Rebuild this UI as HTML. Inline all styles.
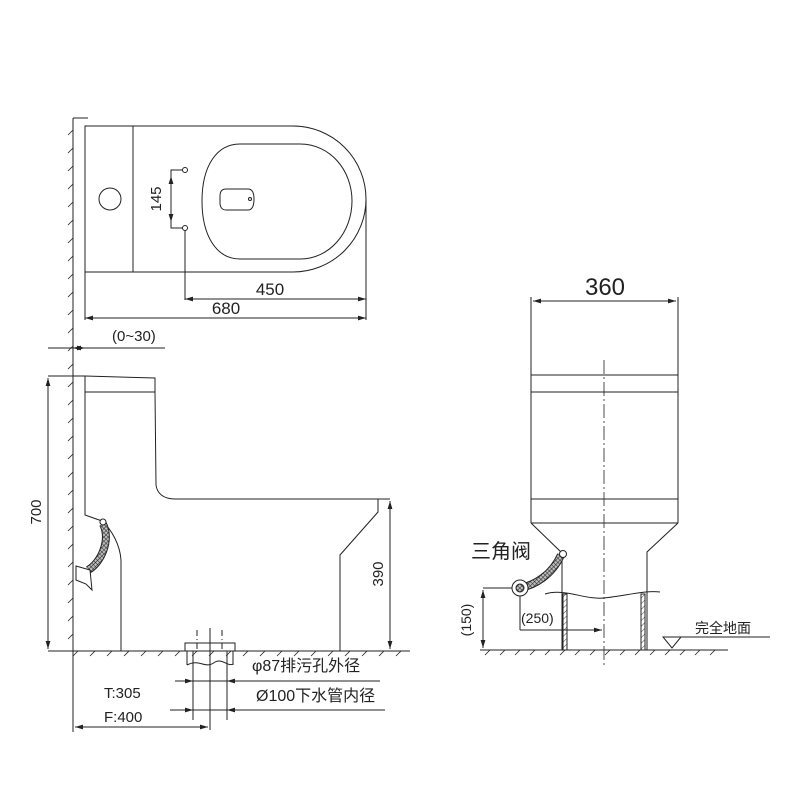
<!DOCTYPE html>
<html><head><meta charset="utf-8"><style>html,body{margin:0;padding:0;background:#fff}svg{display:block}</style></head><body>
<svg width="800" height="800" viewBox="0 0 800 800" xmlns="http://www.w3.org/2000/svg" font-family="'Liberation Sans','Noto Sans CJK SC',sans-serif">
<defs>
<marker id="a" viewBox="0 0 10 6" refX="10" refY="3" markerWidth="8" markerHeight="5" orient="auto-start-reverse" markerUnits="userSpaceOnUse"><path d="M0,0L10,3L0,6z" fill="#222"/></marker>
<pattern id="h" width="3" height="3" patternUnits="userSpaceOnUse" patternTransform="rotate(45)"><rect width="3" height="3" fill="#bbb"/><path d="M0,0V3M0,0H3" stroke="#222" stroke-width="1"/></pattern>
<pattern id="h2" width="4" height="4" patternUnits="userSpaceOnUse" patternTransform="rotate(45)"><path d="M0,0V4" stroke="#333" stroke-width="0.9"/></pattern>
</defs>
<g fill="none" stroke="#222" stroke-width="1">
<line x1="73" y1="118" x2="73" y2="651"/>
<line x1="73" y1="118" x2="88" y2="118"/>
<g stroke-width="0.8">
<path d="M73,130l-5,5M73,148l-5,5M73,166l-5,5M73,184l-5,5M73,202l-5,5M73,220l-5,5M73,238l-5,5M73,256l-5,5M73,274l-5,5M73,292l-5,5M73,310l-5,5M73,328l-5,5M73,346l-5,5M73,364l-5,5M73,382l-5,5M73,400l-5,5M73,418l-5,5M73,436l-5,5M73,454l-5,5M73,472l-5,5M73,490l-5,5M73,508l-5,5M73,526l-5,5M73,544l-5,5M73,562l-5,5M73,580l-5,5M73,598l-5,5M73,616l-5,5M73,634l-5,5"/>
</g>
<path d="M85,126H293A73,73 0 0 1 293,272H85Z"/>
<line x1="133" y1="126" x2="133" y2="272"/>
<circle cx="110" cy="199" r="11"/>
<path d="M240,144H300C330,144 352,170 352,201C352,232 330,259 300,259H240C216,259 202,235 202,201C202,167 216,144 240,144Z"/>
<path d="M226,189H248C252,189 254,192 254,199C254,206 252,210 248,210H226C222,210 220,207 220,203V196C220,191 222,189 226,189Z"/>
<circle cx="250" cy="199" r="1.5"/>
<circle cx="185" cy="170" r="2.5"/><circle cx="185" cy="228" r="2.5"/>
<path d="M183,170H171V228H183"/>
<line x1="171" y1="176" x2="171" y2="222" marker-start="url(#a)" marker-end="url(#a)"/>
<line x1="185" y1="230" x2="185" y2="300"/>
<line x1="366" y1="199" x2="366" y2="320"/>
<line x1="85" y1="272" x2="85" y2="320"/>
<line x1="185" y1="299" x2="366" y2="299" marker-start="url(#a)" marker-end="url(#a)"/>
<line x1="85" y1="318" x2="366" y2="318" marker-start="url(#a)" marker-end="url(#a)"/>
<line x1="48" y1="348" x2="165" y2="348"/>
<line x1="73" y1="348" x2="85" y2="348" marker-start="url(#a)" marker-end="url(#a)"/>
<line x1="48" y1="651" x2="410" y2="651"/>
<g stroke-width="0.8"><path d="M78,651l-5,5M95,651l-5,5M112,651l-5,5M129,651l-5,5M146,651l-5,5M163,651l-5,5M180,651l-5,5M197,651l-5,5M214,651l-5,5M231,651l-5,5M248,651l-5,5M265,651l-5,5M282,651l-5,5M299,651l-5,5M316,651l-5,5M333,651l-5,5M350,651l-5,5M367,651l-5,5M384,651l-5,5M401,651l-5,5"/></g>
<path d="M85,376L155,378V392H85"/>
<path d="M85,376V515L102,521C112,530 120,545 121,560V651"/>
<path d="M155,392L156,485C157,493 163,499 175,499H390"/>
<path d="M378,499V512L340,555V651"/>
<path d="M103,524C111,540 101,563 88,570" stroke="#222" stroke-width="8"/>
<path d="M103,524C111,540 101,563 88,570" stroke="url(#h)" stroke-width="6"/>
<path d="M76,566L90,570L92,590L86,584L76,580Z" fill="#fff"/>
<circle cx="103" cy="522" r="3" fill="#fff"/>
<line x1="48" y1="376" x2="85" y2="376"/>
<line x1="48" y1="378" x2="48" y2="649" marker-start="url(#a)" marker-end="url(#a)"/>
<line x1="390" y1="501" x2="390" y2="649" marker-start="url(#a)" marker-end="url(#a)"/>
<rect x="185" y="643" width="50" height="8"/>
<path d="M187,651V665M233,651V665M193,651V720M227,651V720"/>
<path d="M187,665C200,658 205,670 215,662C222,658 228,667 233,664"/>
<g stroke-dasharray="6,3,1,3"><line x1="197" y1="630" x2="197" y2="650"/><line x1="222" y1="630" x2="222" y2="650"/></g>
<line x1="210" y1="628" x2="210" y2="730"/>
<line x1="175" y1="681" x2="380" y2="681"/>
<line x1="175" y1="681" x2="193" y2="681" marker-end="url(#a)"/><line x1="245" y1="681" x2="227" y2="681" marker-end="url(#a)"/>
<line x1="170" y1="710" x2="385" y2="710"/>
<line x1="170" y1="710" x2="193" y2="710" marker-end="url(#a)"/><line x1="245" y1="710" x2="227" y2="710" marker-end="url(#a)"/>
<line x1="73" y1="651" x2="73" y2="732"/>
<line x1="75" y1="727" x2="208" y2="727" marker-start="url(#a)" marker-end="url(#a)"/>
<line x1="531" y1="297" x2="531" y2="523"/>
<line x1="678" y1="297" x2="678" y2="523"/>
<line x1="533" y1="301" x2="676" y2="301" marker-start="url(#a)" marker-end="url(#a)"/>
<line x1="531" y1="375" x2="678" y2="375"/><line x1="531" y1="392" x2="678" y2="392"/><line x1="531" y1="499" x2="678" y2="499"/><line x1="531" y1="523" x2="678" y2="523"/>
<path d="M531,523L562,553V650M678,523L647,552V650"/>
<line x1="604" y1="360" x2="604" y2="668" stroke-dasharray="14,3,2,3" stroke-width="0.8"/>
<path d="M545,594C565,588 585,600 604,598C625,596 645,590 660,592"/>
<rect x="563" y="594" width="4" height="56" fill="url(#h2)"/>
<rect x="641" y="594" width="4" height="56" fill="url(#h2)"/>
<line x1="480" y1="650" x2="728" y2="650"/>
<g stroke-width="0.8"><path d="M490,650l-5,5M505,650l-5,5M520,650l-5,5M535,650l-5,5M550,650l-5,5M565,650l-5,5M580,650l-5,5M595,650l-5,5M610,650l-5,5M625,650l-5,5M640,650l-5,5M655,650l-5,5M670,650l-5,5M685,650l-5,5M700,650l-5,5M715,650l-5,5"/></g>
<path d="M520,588C535,585 552,575 561,555" stroke="#222" stroke-width="8"/>
<path d="M520,588C535,585 552,575 561,555" stroke="url(#h)" stroke-width="6"/>
<circle cx="520" cy="588" r="8" fill="#fff"/><circle cx="520" cy="588" r="4" fill="url(#h)"/>
<circle cx="563" cy="554" r="3.5" fill="#fff"/>
<line x1="483" y1="588" x2="512" y2="588"/>
<line x1="483" y1="590" x2="483" y2="648" marker-start="url(#a)" marker-end="url(#a)"/>
<line x1="520" y1="596" x2="520" y2="630"/>
<line x1="520" y1="630" x2="602" y2="630" marker-end="url(#a)"/>
<line x1="665" y1="637" x2="770" y2="637"/>
<path d="M663,637H681L672,648Z"/>
</g>
<g fill="#222" font-size="14">
<text x="161" y="199" transform="rotate(-90 161 199)" text-anchor="middle" font-size="15">145</text>
<text x="270" y="295" text-anchor="middle" font-size="17">450</text>
<text x="226" y="314" text-anchor="middle" font-size="17">680</text>
<text x="112" y="341" font-size="15">(0~30)</text>
<text x="41" y="512" transform="rotate(-90 41 512)" text-anchor="middle" font-size="15">700</text>
<text x="383" y="574" transform="rotate(-90 383 574)" text-anchor="middle" font-size="15">390</text>
<text x="252" y="671" font-size="16">φ87排污孔外径</text>
<text x="256" y="701" font-size="16">Ø100下水管内径</text>
<text x="104" y="698" font-size="15">T:305</text>
<text x="104" y="722" font-size="15">F:400</text>
<text x="605" y="295" text-anchor="middle" font-size="24">360</text>
<text x="471" y="558" font-size="20">三角阀</text>
<text x="471" y="620" transform="rotate(-90 471 620)" text-anchor="middle" font-size="14">(150)</text>
<text x="521" y="623" font-size="14">(250)</text>
<text x="695" y="633" font-size="14">完全地面</text>
</g>
</svg>
</body></html>
